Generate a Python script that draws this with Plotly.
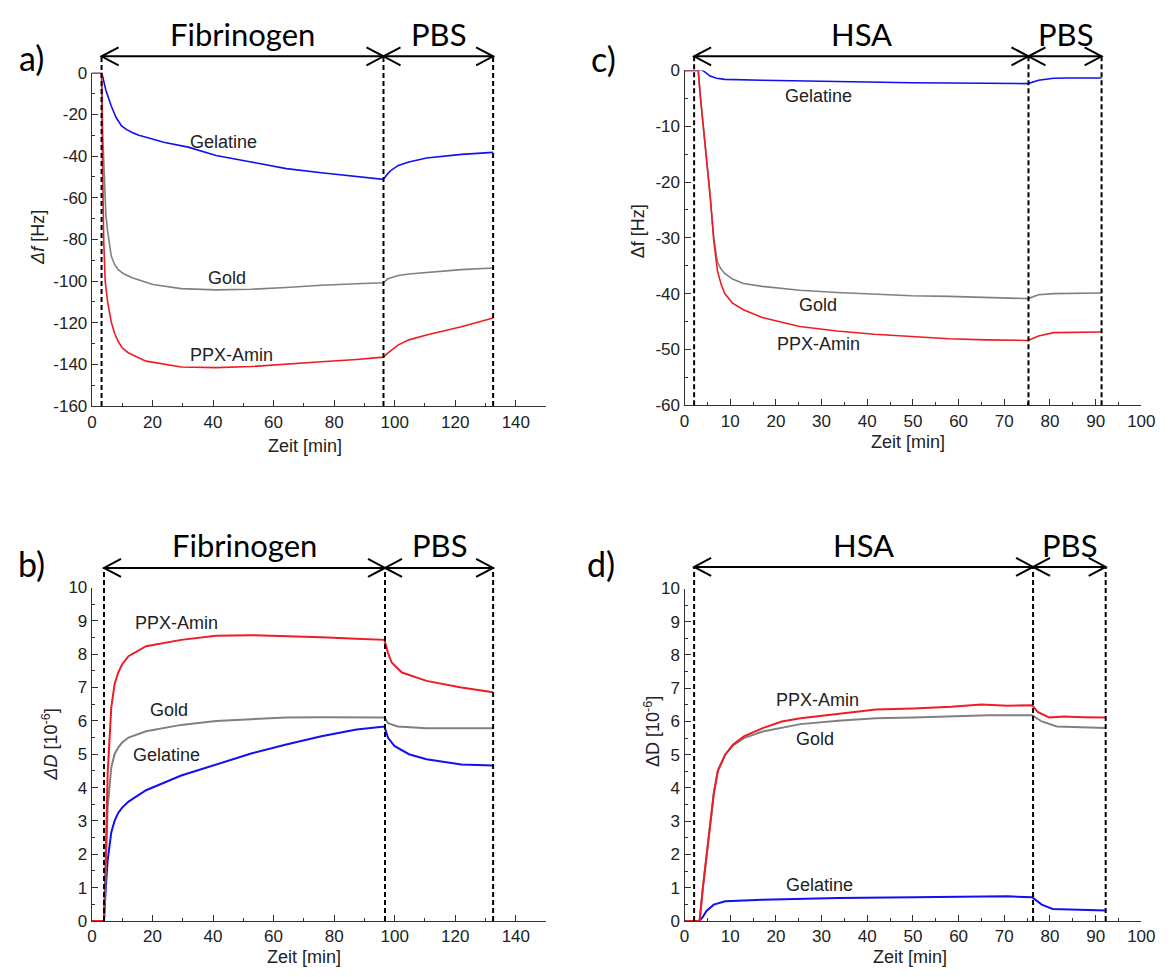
import plotly.graph_objects as go

# ------------------------- data -------------------------
# Panel a: frequency shift, Fibrinogen
a_gel_t = [0, 3.2, 3.6, 4.6, 6.4, 8.0, 9.8, 11.5, 13.3, 15.5, 17.9, 23.7, 31.8, 41.0, 52.6, 64.2, 75.8,
           87.4, 96.2, 97.8, 98.9, 101.2, 104.7, 110.5, 116.3, 122.1, 132.5]
a_gel = [0, 0, -2, -8.3, -16, -21.5, -25.5, -27.3, -28.7, -30.0, -31, -33.4, -35.7, -39.7, -42.8, -46,
         -48, -49.8, -51.2, -48.3, -46.7, -44.5, -42.8, -40.9, -40.0, -39.2, -38.2]
a_gold_t = [0, 3.2, 3.6, 4.2, 4.6, 5.2, 6.4, 7.5, 8.7, 10.5, 13.3, 20.2, 29.5, 41.0, 52.6, 64.2, 75.8,
            87.4, 96.2, 97.8, 101.2, 104.7, 110.5, 122.0, 132.5]
a_gold = [0, 0, -30, -55, -68, -76, -88, -92, -94.5, -96.5, -98.4, -101.6, -103.6, -104.2, -103.9,
          -103.1, -102, -101.3, -100.8, -98.9, -97.3, -96.6, -95.8, -94.5, -93.7]
a_ppx_t = [0, 3.2, 3.5, 3.9, 4.4, 5.2, 6.4, 7.5, 8.7, 10.0, 12.1, 17.9, 29.5, 41.0, 52.6, 64.2, 75.8,
           87.4, 96.2, 97.8, 101.2, 104.7, 110.5, 122.0, 132.5]
a_ppx = [0, 0, -40, -80, -100, -110, -119.6, -125, -129, -132, -134.5, -138.4, -141.2, -141.5, -141,
         -140, -138.7, -137.6, -136.5, -134.5, -130.6, -128.2, -125.9, -121.9, -117.7]

# Panel b: dissipation shift, Fibrinogen
b_gel_t = [0, 4.0, 4.6, 5.2, 6.4, 7.5, 8.7, 10.0, 12.1, 17.9, 29.5, 41.0, 52.6, 64.2, 75.8, 87.4, 96.6,
           97.8, 99.9, 104.7, 110.5, 122.0, 132.5]
b_gel = [0, 0, 1.0, 1.8, 2.65, 3.0, 3.24, 3.4, 3.58, 3.92, 4.36, 4.7, 5.02, 5.29, 5.54, 5.74, 5.83,
         5.49, 5.25, 5.0, 4.85, 4.69, 4.66]
b_gold_t = [0, 4.0, 4.6, 5.2, 6.4, 7.5, 8.7, 10.0, 12.1, 17.9, 29.5, 41.0, 52.6, 64.2, 75.8, 87.4, 96.6,
            97.8, 101.0, 110.5, 132.5]
b_gold = [0, 0, 1.5, 3.4, 4.6, 5.0, 5.2, 5.35, 5.5, 5.69, 5.88, 6.0, 6.05, 6.1, 6.11, 6.11, 6.1,
          5.93, 5.83, 5.78, 5.78]
b_ppx_t = [0, 4.0, 4.6, 5.2, 6.4, 7.5, 8.7, 10.0, 12.1, 17.9, 29.5, 41.0, 52.6, 64.2, 75.8, 87.4, 96.6,
           97.8, 99.0, 102.4, 110.5, 122.0, 132.5]
b_ppx = [0, 0, 2.0, 4.4, 6.4, 7.1, 7.45, 7.7, 7.94, 8.24, 8.43, 8.55, 8.57, 8.55, 8.51, 8.46, 8.43,
         8.04, 7.75, 7.45, 7.2, 7.0, 6.86]

# Panel c: frequency shift, HSA
c_gel_t = [0, 3.0, 3.8, 4.5, 5.6, 7.0, 8.8, 17.0, 33.4, 49.7, 66.0, 75.2, 77.5, 80.8, 84.0, 91.3]
c_gel = [0, 0, 0.1, -0.3, -1.0, -1.4, -1.6, -1.76, -2.0, -2.2, -2.3, -2.35, -1.76, -1.4, -1.35, -1.35]
c_gold_t = [0, 3.0, 3.5, 4.0, 4.7, 5.6, 6.4, 7.2, 8.0, 8.8, 10.5, 12.9, 17.0, 25.2, 33.4, 41.5, 49.7,
            57.9, 66.0, 75.2, 77.5, 80.8, 91.3]
c_gold = [0, 0, -5, -9, -15.3, -22.4, -30, -34.4, -35.6, -36.4, -37.4, -38.2, -38.7, -39.4, -39.8,
          -40.1, -40.4, -40.5, -40.7, -40.9, -40.2, -40.0, -39.9]
c_ppx_t = [0, 3.0, 3.5, 4.0, 4.7, 5.6, 6.4, 7.2, 8.0, 8.8, 10.5, 12.9, 17.0, 25.2, 33.4, 41.5, 49.7,
           57.9, 66.0, 75.2, 77.5, 80.8, 91.3]
c_ppx = [0, 0, -5, -9, -15.3, -22.4, -30.5, -35.9, -38.3, -40, -41.7, -42.9, -44.3, -45.9, -46.7,
         -47.3, -47.7, -48.1, -48.3, -48.4, -47.6, -47.0, -46.9]

# Panel d: dissipation shift, HSA
d_gel_t = [0, 3.3, 4.0, 4.8, 6.4, 8.9, 17.1, 33.6, 50.1, 66.6, 70.7, 76.1, 78.2, 80.6, 87.2, 92.2]
d_gel = [0, 0, 0.12, 0.3, 0.49, 0.59, 0.64, 0.69, 0.71, 0.72, 0.74, 0.71, 0.49, 0.36, 0.34, 0.31]
d_gold_t = [0, 3.3, 4.0, 4.8, 5.6, 6.4, 7.3, 8.9, 10.6, 13.0, 17.1, 21.3, 25.4, 33.6, 41.9, 50.1, 58.4,
            66.6, 76.1, 78.2, 81.5, 92.2]
d_gold = [0, 0, 0.98, 1.97, 2.95, 3.83, 4.52, 5.0, 5.28, 5.5, 5.7, 5.8, 5.92, 6.02, 6.1, 6.12, 6.15,
          6.19, 6.19, 6.0, 5.85, 5.8]
d_ppx_t = [0, 3.3, 4.0, 4.8, 5.6, 6.4, 7.3, 8.9, 10.6, 13.0, 17.1, 21.3, 25.4, 33.6, 41.9, 50.1, 58.4,
           65.0, 70.7, 76.1, 77.3, 79.8, 83.1, 87.2, 92.2]
d_ppx = [0, 0, 0.98, 1.97, 2.95, 3.83, 4.52, 5.0, 5.3, 5.55, 5.8, 6.0, 6.1, 6.24, 6.36, 6.39, 6.44,
         6.51, 6.47, 6.49, 6.29, 6.12, 6.15, 6.13, 6.12]

# phase boundaries (min) and phase names
a_bounds = [3.2, 96.3, 132.5]
b_bounds = [4.0, 96.8, 132.5]
c_bounds = [2.1, 75.3, 91.3]
d_bounds = [2.1, 76.3, 92.2]
fib_phases = ["Fibrinogen", "PBS"]
hsa_phases = ["HSA", "PBS"]

series_names = ["Gelatine", "Gold", "PPX-Amin"]

# label anchor positions (data coords)
a_lab_x = [43.6, 44.5, 46.0]
a_lab_y = [-33.1, -98.4, -135.3]
b_lab_x = [24.5, 25.5, 27.8]
b_lab_y = [4.99, 6.32, 8.95]
c_lab_x = [29.3, 29.3, 29.4]
c_lab_y = [-4.5, -42.0, -49.0]
d_lab_x = [29.5, 28.5, 29.1]
d_lab_y = [1.08, 5.46, 6.64]

# tick values / labels
a_yticks = [0, -20, -40, -60, -80, -100, -120, -140, -160]
c_yticks = [0, -10, -20, -30, -40, -50, -60]
bd_yticks = list(range(0, 11))
ab_xticks = [0, 20, 40, 60, 80, 100, 120, 140]
cd_xticks = [0, 10, 20, 30, 40, 50, 60, 70, 80, 90, 100]

# ------------------------- figure -------------------------
W, H = 1175, 977


def fx(p):
    return p / W


def fy(p):
    return 1 - p / H


COLORS = {"Gelatine": "#1010f0", "Gold": "#808080", "PPX-Amin": "#ee1c24"}
TXT = "#222222"
AX = "#333333"
LBLFONT = dict(family="Liberation Sans, Arial", size=18, color=TXT)
BIGFONT = "Lato, Open Sans, sans-serif"

panels = [
    dict(key="a", xa="x", ya="y", xdom=(88.3, 550), ydom=(65, 405), xr=[0, 150], yr=[-160, 0],
         xt=ab_xticks, xminor=10, yt=a_yticks, yminor=10, bounds=a_bounds, phases=fib_phases,
         data=[(a_gel_t, a_gel), (a_gold_t, a_gold), (a_ppx_t, a_ppx)], lx=a_lab_x, ly=a_lab_y,
         arrow_y=48.3, phase_y=25, letter=("a)", 27, 49), ytitle=("<i>Δf</i> [Hz]", 34, 233),
         xtitle=(305, 446), width=1.6),
    dict(key="c", xa="x2", ya="y2", xdom=(690.7, 1155), ydom=(62.7, 404), xr=[0, 100], yr=[-60, 0],
         xt=cd_xticks, xminor=5, yt=c_yticks, yminor=5, bounds=c_bounds, phases=hsa_phases,
         data=[(c_gel_t, c_gel), (c_gold_t, c_gold), (c_ppx_t, c_ppx)], lx=c_lab_x, ly=c_lab_y,
         arrow_y=48.3, phase_y=25, letter=("c)", 608, 50), ytitle=("Δf [Hz]", 643, 227),
         xtitle=(918, 442), width=1.6),
    dict(key="b", xa="x3", ya="y3", xdom=(88.3, 550), ydom=(590, 930), xr=[0, 150], yr=[0, 10],
         xt=ab_xticks, xminor=10, yt=bd_yticks, yminor=0.5, bounds=b_bounds, phases=fib_phases,
         data=[(b_gel_t, b_gel), (b_gold_t, b_gold), (b_ppx_t, b_ppx)], lx=b_lab_x, ly=b_lab_y,
         arrow_y=570, phase_y=547, letter=("b)", 27, 566),
         ytitle=("<i>ΔD</i> [10<sup>-6</sup>]", 46, 750), xtitle=(304, 967), width=2.0),
    dict(key="d", xa="x4", ya="y4", xdom=(690.7, 1155), ydom=(591, 930), xr=[0, 100], yr=[0, 10],
         xt=cd_xticks, xminor=5, yt=bd_yticks, yminor=0.5, bounds=d_bounds, phases=hsa_phases,
         data=[(d_gel_t, d_gel), (d_gold_t, d_gold), (d_ppx_t, d_ppx)], lx=d_lab_x, ly=d_lab_y,
         arrow_y=569, phase_y=547, letter=("d)", 606, 566),
         ytitle=("ΔD [10<sup>-6</sup>]", 658, 737), xtitle=(920, 967), width=2.0),
]

fig = go.Figure()
shapes = []
annotations = []
layout_axes = {}

for p in panels:
    xname = "xaxis" + p["xa"][1:]
    yname = "yaxis" + p["ya"][1:]
    common = dict(showline=True, linecolor=AX, linewidth=1.3, ticks="inside", ticklen=6,
                  tickwidth=1.3, tickcolor=AX, showgrid=False, zeroline=False,
                  tickfont=dict(family="Liberation Sans, Arial", size=17, color=TXT))
    layout_axes[xname] = dict(common, domain=[fx(p["xdom"][0]), fx(p["xdom"][1])], range=p["xr"],
                              anchor=p["ya"], tickmode="array", tickvals=p["xt"],
                              ticktext=[str(v) for v in p["xt"]],
                              minor=dict(ticks="inside", ticklen=3, tickcolor=AX, tickmode="linear",
                                         tick0=0, dtick=p["xminor"]))
    layout_axes[yname] = dict(common, domain=[fy(p["ydom"][1]), fy(p["ydom"][0])], range=p["yr"],
                              anchor=p["xa"], tickmode="array", tickvals=p["yt"],
                              ticktext=[str(v) for v in p["yt"]],
                              minor=dict(ticks="inside", ticklen=3, tickcolor=AX, tickmode="linear",
                                         tick0=0, dtick=p["yminor"]))

    # curves
    for name, (t, v) in zip(series_names, p["data"]):
        fig.add_trace(go.Scatter(x=t, y=v, mode="lines", name=name, xaxis=p["xa"], yaxis=p["ya"],
                                 line=dict(color=COLORS[name], width=p["width"]), cliponaxis=False,
                                 showlegend=False))
    # curve labels
    for name, lx, ly in zip(series_names, p["lx"], p["ly"]):
        annotations.append(dict(x=lx, y=ly, xref=p["xa"], yref=p["ya"], text=name, showarrow=False,
                                font=LBLFONT, xanchor="center", yanchor="middle"))

    ybottom = fy(p["ydom"][1])
    yarrow = fy(p["arrow_y"])
    b = p["bounds"]
    # dashed phase boundary lines
    for bx in b:
        shapes.append(dict(type="line", xref=p["xa"], yref="paper", x0=bx, x1=bx, y0=ybottom, y1=yarrow,
                           line=dict(color="black", width=2, dash="5px,3px")))
    # double-headed arrows and phase names
    for i, ph in enumerate(p["phases"]):
        x0, x1 = b[i], b[i + 1]
        shapes.append(dict(type="line", xref=p["xa"], yref="paper", x0=x0, x1=x1, y0=yarrow, y1=yarrow,
                           line=dict(color="black", width=2)))
        shapes.append(dict(type="path", xref=p["xa"], yref="paper", xsizemode="pixel", ysizemode="pixel",
                           xanchor=x0, yanchor=yarrow, path="M17,9 L0,0 L17,-9",
                           line=dict(color="black", width=2)))
        shapes.append(dict(type="path", xref=p["xa"], yref="paper", xsizemode="pixel", ysizemode="pixel",
                           xanchor=x1, yanchor=yarrow, path="M-17,9 L0,0 L-17,-9",
                           line=dict(color="black", width=2)))
        annotations.append(dict(x=(x0 + x1) / 2, y=fy(p["phase_y"]), xref=p["xa"], yref="paper", text=ph,
                                showarrow=False, xanchor="center", yanchor="middle",
                                font=dict(family=BIGFONT, size=31, color="black")))
    # panel letter
    t, lx, ly = p["letter"]
    annotations.append(dict(x=fx(lx), y=fy(ly), xref="paper", yref="paper", text=t, showarrow=False,
                            xanchor="center", yanchor="middle",
                            font=dict(family=BIGFONT, size=34, color="black")))
    # axis titles
    t, tx, ty = p["ytitle"]
    annotations.append(dict(x=fx(tx), y=fy(ty), xref="paper", yref="paper", text=t, showarrow=False,
                            textangle=-90, xanchor="center", yanchor="middle", font=LBLFONT))
    tx, ty = p["xtitle"]
    annotations.append(dict(x=fx(tx), y=fy(ty), xref="paper", yref="paper", text="Zeit [min]",
                            showarrow=False, xanchor="center", yanchor="middle", font=LBLFONT))

fig.update_layout(width=W, height=H, margin=dict(l=0, r=0, t=0, b=0), paper_bgcolor="white",
                  plot_bgcolor="white", showlegend=False, shapes=shapes, annotations=annotations,
                  **layout_axes)

fig.write_html("out.html")
